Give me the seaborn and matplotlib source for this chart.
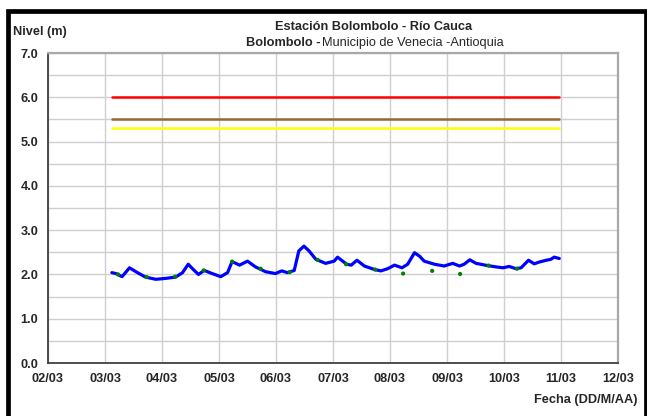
import pandas as pd
import matplotlib
matplotlib.use("Agg")
import matplotlib.pyplot as plt
import matplotlib.dates as mdates
from matplotlib.patches import Rectangle
import seaborn as sb

# nivel continuo, dia de marzo 2003 (fraccion de dia) y nivel en m
dia = [3.12, 3.19, 3.30, 3.43, 3.57, 3.71, 3.89, 4.06, 4.24, 4.36, 4.46, 4.55,
       4.64, 4.74, 4.88, 5.03, 5.15, 5.23, 5.36, 5.50, 5.64, 5.82, 5.99, 6.10,
       6.20, 6.32, 6.40, 6.49, 6.58, 6.70, 6.87, 7.02, 7.08, 7.24, 7.32, 7.42,
       7.55, 7.73, 7.84, 7.96, 8.08, 8.21, 8.31, 8.43, 8.52, 8.60, 8.78, 8.95,
       9.10, 9.22, 9.30, 9.40, 9.51, 9.71, 9.86, 9.98, 10.09, 10.21, 10.30,
       10.43, 10.53, 10.62, 10.74, 10.82, 10.88, 10.97]
nivel = [2.04, 2.02, 1.95, 2.15, 2.04, 1.94, 1.89, 1.91, 1.94, 2.04, 2.23, 2.11,
         2.00, 2.09, 2.02, 1.95, 2.04, 2.29, 2.21, 2.30, 2.17, 2.06, 2.02, 2.08,
         2.04, 2.09, 2.53, 2.64, 2.53, 2.34, 2.25, 2.30, 2.39, 2.23, 2.21, 2.32,
         2.19, 2.11, 2.08, 2.13, 2.21, 2.15, 2.23, 2.49, 2.41, 2.30, 2.23, 2.19,
         2.25, 2.19, 2.23, 2.33, 2.25, 2.20, 2.17, 2.15, 2.18, 2.13, 2.15,
         2.32, 2.24, 2.28, 2.32, 2.34, 2.39, 2.36]

# lecturas de mira
dia_mira = [3.23, 3.73, 4.23, 4.73, 5.23, 5.73, 6.24, 6.73, 7.23, 7.74,
            8.23, 8.74, 9.23, 9.73, 10.23]
nivel_mira = [2.00, 1.94, 1.95, 2.09, 2.29, 2.13, 2.05, 2.33, 2.23, 2.11,
              2.02, 2.08, 2.01, 2.20, 2.13]

# cotas de alerta (m)
alertas = [6.0, 5.5, 5.3]
colores_alerta = ['#FF0000', '#996633', '#FFFF00']

base = pd.Timestamp('2003-03-01')
df = pd.DataFrame({'fecha': base + pd.to_timedelta([d - 1 for d in dia], unit='D'),
                   'nivel': nivel})
dm = pd.DataFrame({'fecha': base + pd.to_timedelta([d - 1 for d in dia_mira], unit='D'),
                   'nivel': nivel_mira})

sb.set_style('white')
plt.rcParams['font.family'] = ['Liberation Sans', 'DejaVu Sans']
fs = 9.2

fig = plt.figure(figsize=(6.47, 4.16), dpi=100)
ax = fig.add_axes([48 / 647, 1 - 363 / 416, 570 / 647, 310 / 416])

for cota, col in zip(alertas, colores_alerta):
    da = pd.DataFrame({'fecha': [df['fecha'].iloc[0], df['fecha'].iloc[-1]],
                       'nivel': [cota, cota]})
    sb.lineplot(data=da, x='fecha', y='nivel', color=col, lw=1.8, ax=ax)

sb.lineplot(data=df, x='fecha', y='nivel', color='#0000FF', lw=2.3, ax=ax,
            solid_joinstyle='round', solid_capstyle='round')
sb.scatterplot(data=dm, x='fecha', y='nivel', color='#008000', s=9,
               edgecolor='none', ax=ax, zorder=5)

ax.set_xlim(pd.Timestamp('2003-03-02'), pd.Timestamp('2003-03-12'))
ax.set_ylim(0, 7)
ax.xaxis.set_major_locator(mdates.DayLocator())
ax.xaxis.set_major_formatter(mdates.DateFormatter('%d/%m'))
ax.set_yticks([i * 1.0 for i in range(8)])
ax.set_yticks([i + 0.5 for i in range(7)], minor=True)
ax.yaxis.set_major_formatter(matplotlib.ticker.FormatStrFormatter('%.1f'))
ax.grid(True, which='both', color='#CFCFCF', lw=1)
ax.set_axisbelow(True)
ax.set_xlabel('')
ax.set_ylabel('')

for lab in ax.get_xticklabels() + ax.get_yticklabels():
    lab.set_fontweight('bold')
    lab.set_fontsize(fs)
ax.tick_params(axis='y', which='major', direction='out', length=3, pad=4, color='#404040')
ax.tick_params(axis='y', which='minor', length=0)
ax.tick_params(axis='x', direction='inout', length=5, pad=5, color='#404040')

for s in ['left', 'bottom']:
    ax.spines[s].set_color('#404040')
    ax.spines[s].set_linewidth(1.3)
for s in ['top', 'right']:
    ax.spines[s].set_color('#A8A8A8')
    ax.spines[s].set_linewidth(1.6)

fig.text(13 / 647, 1 - 32 / 416, 'Nivel (m)', fontsize=fs, fontweight='bold', va='center')
fig.text(374 / 647, 1 - 27 / 416, 'Estación Bolombolo - Río Cauca', fontsize=fs,
         fontweight='bold', ha='center', va='center')
fig.text(321 / 647, 1 - 43 / 416, 'Bolombolo -', fontsize=fs, fontweight='bold',
         ha='right', va='center')
fig.text(322 / 647, 1 - 43 / 416, 'Municipio de Venecia -Antioquia', fontsize=fs,
         ha='left', va='center')
fig.text(638 / 647, 1 - 400 / 416, 'Fecha (DD/M/AA)', fontsize=fs, fontweight='bold',
         ha='right', va='center')

fig.patches.append(Rectangle((7.5 / 647, -0.05), 638 / 647, 1.05 - 11 / 416,
                             transform=fig.transFigure, fill=False,
                             edgecolor='black', lw=3.4))

fig.savefig('out.png', dpi=100)
